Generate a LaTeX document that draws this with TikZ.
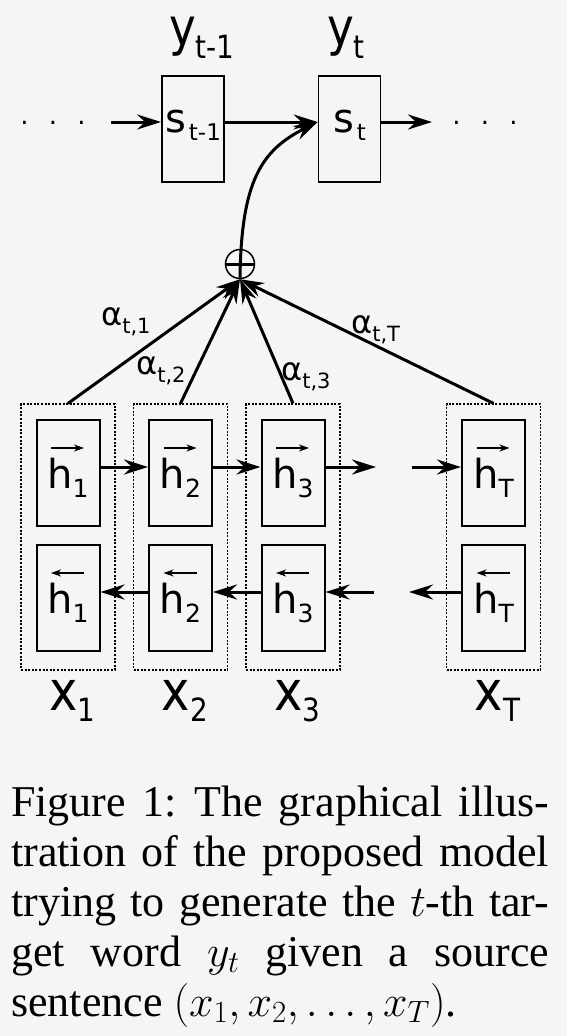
\RequirePackage{fix-cm}
\documentclass[tikz,border=0pt]{standalone}
\usepackage[no-math]{fontspec}
\setmainfont{Liberation Serif}
\newfontfamily\diagfont{DejaVu Sans}
\newfontfamily\narrowfont[FakeStretch=0.87]{DejaVu Sans}
\usepackage{xcolor}
\usepackage{tikz}
\usetikzlibrary{arrows.meta}
\definecolor{pagegray}{RGB}{245,245,245}
\newcommand\lsub[3]{\raisebox{-#2}{\fontsize{#1}{#1}\selectfont #3}}
\newcommand\ysb[1]{\lsub{32}{12.5pt}{#1}}
\newcommand\ssb[1]{\hspace{3pt}\lsub{23}{8pt}{#1}}
\newcommand\hsb[1]{\lsub{25}{9pt}{#1}}
\newcommand\asb[1]{\lsub{21}{8pt}{#1}}
\newcommand\xsb[1]{\lsub{32}{11pt}{#1}}
\tikzset{
    conn/.style = {-{Stealth[length=24pt, width=15pt, inset=8pt]}, line width=3pt},
    overarrow/.style = {-{Stealth[length=10pt, width=7pt, inset=3pt]}, line width=1.5pt},
    sbox/.style = {draw=black, line width=1.8pt, minimum width=62pt, minimum height=106pt, inner sep=0pt,
                   text height=6pt, text depth=0pt, font=\diagfont\fontsize{40}{40}\selectfont},
    hbox/.style = {draw=black, line width=2pt, minimum width=63pt, minimum height=106pt, inner sep=0pt,
                   text height=30pt, text depth=0pt, font=\diagfont\fontsize{40}{40}\selectfont},
    xbox/.style = {draw=black, line width=1.2pt, dash pattern=on 2pt off 1.6pt,
                   minimum width=94pt, minimum height=266pt, inner sep=0pt},
    sumnode/.style = {circle, draw=black, line width=1.5pt, minimum size=29pt, inner sep=0pt},
    ylabel/.style = {anchor=base west, inner sep=0pt, font=\narrowfont\fontsize{52}{52}\selectfont},
    xlabel/.style = {anchor=base west, inner sep=0pt, font=\narrowfont\fontsize{55}{55}\selectfont},
    alabel/.style = {anchor=base west, inner sep=0pt, font=\diagfont\fontsize{32}{32}\selectfont},
    dots/.style = {anchor=base, inner sep=0pt, font=\diagfont\fontsize{26}{26}\selectfont}
}
\begin{document}
\begin{tikzpicture}[x=1pt, y=-1pt]
    \fill[pagegray] (0,0) rectangle (567,1036);
    \useasboundingbox (0,0) rectangle (567,1036);

    % decoder states
    \node [sbox] (sprev) at (193,129) {s\ssb{t-1}};
    \node [sbox] (scur) at (349.5,129) {s\ssb{t}};
    \node [ylabel] (yprev) at (169,45.5) {y\ysb{t-1}};
    \node [ylabel] (ycur) at (327,45.5) {y\ysb{t}};
    \node [dots] (ldots) at (53,124) {\makebox[28.5pt]{.}\makebox[28.5pt]{.}\makebox[28.5pt]{.}};
    \node [dots] (rdots) at (485,124) {\makebox[28.5pt]{.}\makebox[28.5pt]{.}\makebox[28.5pt]{.}};
    \coordinate (inl) at (111,122);
    \coordinate (outr) at (432,122);
    \draw [conn] (inl) -- ([yshift=7pt]sprev.west);
    \draw [conn] ([yshift=7pt]sprev.east) -- ([yshift=7pt]scur.west);
    \draw [conn] ([yshift=7pt]scur.east) -- (outr);

    % weighted sum
    \node [sumnode] (sum) at (240,264) {};
    \draw [line width=3pt] (sum.west) -- (sum.east);
    \draw [conn] (sum.south) .. controls (241,180) and (262,150) .. ([yshift=7pt]scur.west);

    % encoder columns
    \foreach \n/\x in {1/68, 2/180.5, 3/293, T/493.5} {
        \node [xbox] (c\n) at (\x,537) {};
        \node [hbox] (hf\n) at (\x,473) {h\hsb{\n}};
        \node [hbox] (hb\n) at (\x,598) {h\hsb{\n}};
        \node [xlabel] (x\n) at ([xshift=-19pt,yshift=-40pt]c\n.south) {x\xsb{\n}};
        \draw [overarrow] ([xshift=-17pt,yshift=25pt]hf\n.center) -- ([xshift=16pt,yshift=25pt]hf\n.center);
        \draw [overarrow] ([xshift=16pt,yshift=25pt]hb\n.center) -- ([xshift=-17pt,yshift=25pt]hb\n.center);
        \draw [conn] (c\n.north) -- (sum.south);
    }

    % recurrences
    \coordinate (fwdgapl) at (376,467);
    \coordinate (fwdgapr) at (412,467);
    \coordinate (bwdgapl) at (374,592);
    \coordinate (bwdgapr) at (409,592);
    \draw [conn] ([yshift=6pt]hf1.east) -- ([yshift=6pt]hf2.west);
    \draw [conn] ([yshift=6pt]hf2.east) -- ([yshift=6pt]hf3.west);
    \draw [conn] ([yshift=6pt]hf3.east) -- (fwdgapl);
    \draw [conn] (fwdgapr) -- ([yshift=6pt]hfT.west);
    \draw [conn] ([yshift=6pt]hbT.west) -- (bwdgapr);
    \draw [conn] (bwdgapl) -- ([yshift=6pt]hb3.east);
    \draw [conn] ([yshift=6pt]hb3.west) -- ([yshift=6pt]hb2.east);
    \draw [conn] ([yshift=6pt]hb2.west) -- ([yshift=6pt]hb1.east);

    % attention weights
    \node [alabel] (a1) at (101,325) {α\asb{t,1}};
    \node [alabel] (a2) at (136,374) {α\asb{t,2}};
    \node [alabel] (a3) at (281,380) {α\asb{t,3}};
    \node [alabel] (aT) at (351,333) {α\asb{t,T}};

    % caption
    \node [anchor=base west, inner sep=0pt] (caption) at (11,816) {\parbox[t]{538pt}{\fontsize{44}{50}\selectfont
        \makebox[538pt][s]{Figure 1:\hspace{18pt}The graphical illus-}\\
        \makebox[538pt][s]{tration of the proposed model}\\
        \makebox[538pt][s]{trying to generate the $t$-th tar-}\\
        \makebox[538pt][s]{get word $y_t$ given a source}\\
        sentence $(x_1, x_2, \ldots, x_T)$.}};
\end{tikzpicture}
\end{document}
